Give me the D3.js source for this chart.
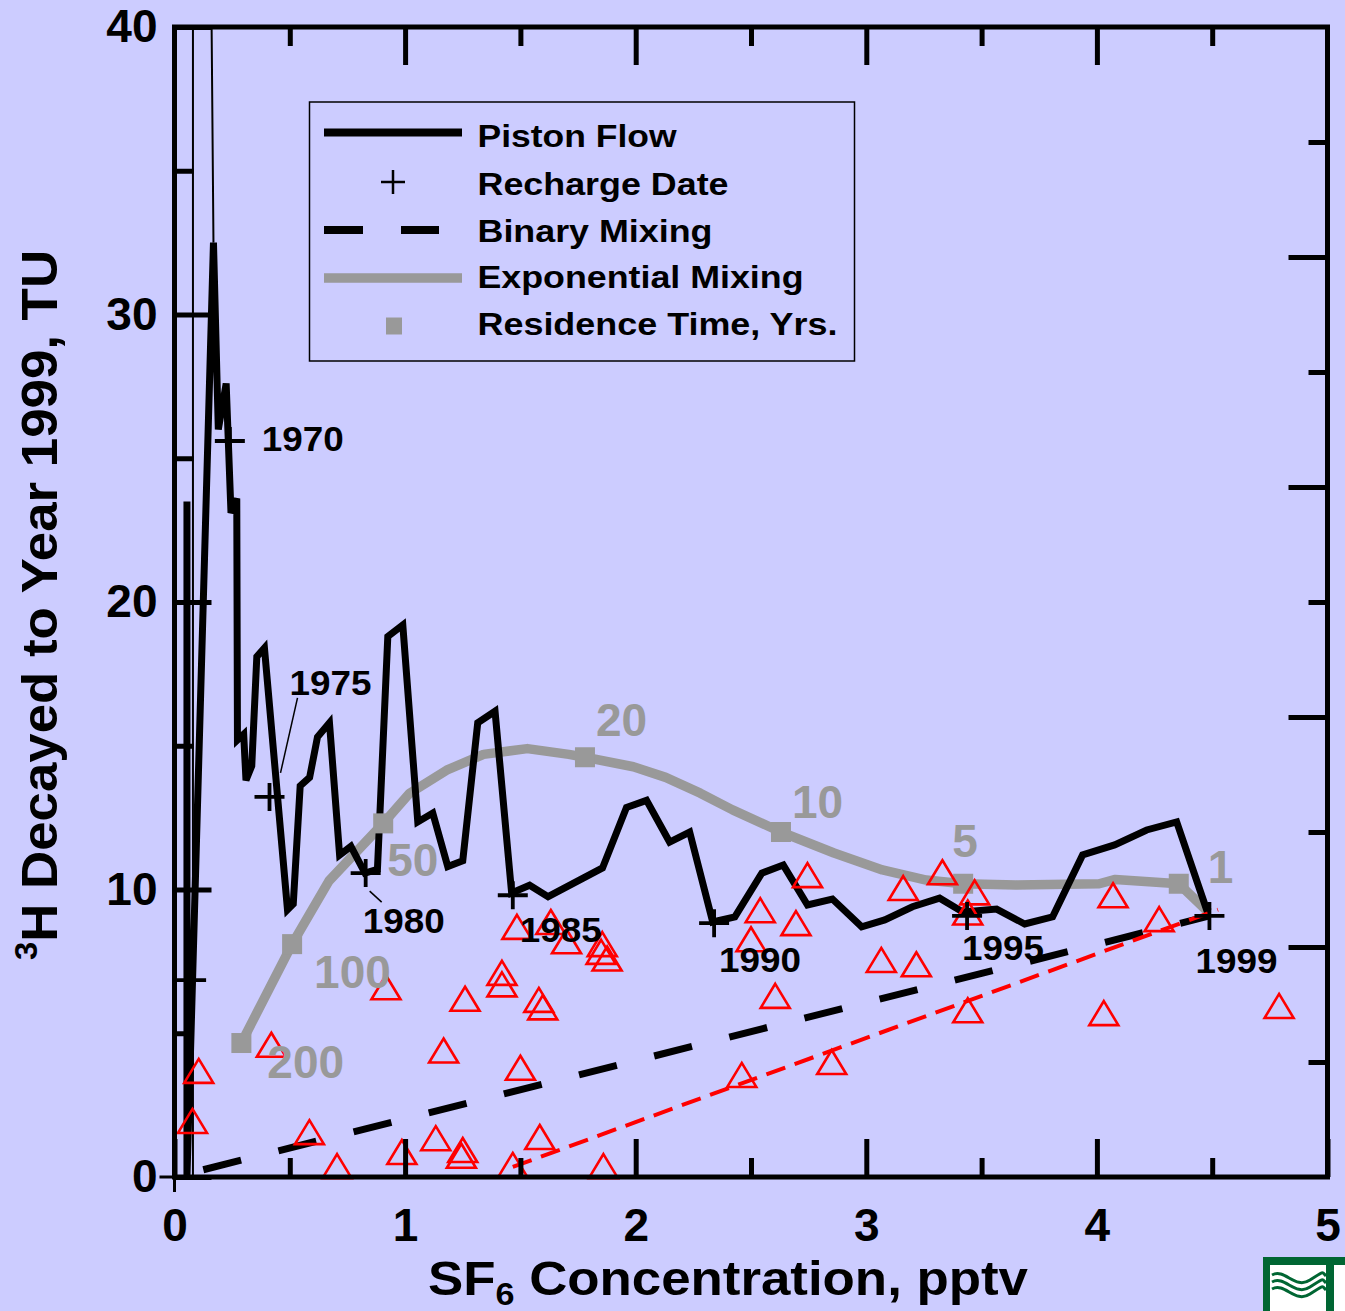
<!DOCTYPE html>
<html>
<head>
<meta charset="utf-8">
<script src="https://cdn.jsdelivr.net/npm/d3@7"></script>
<style>
  html, body { margin: 0; padding: 0; background: #ccccff; }
  svg { display: block; }
  text { font-family: "Liberation Sans", Arial, Helvetica, sans-serif; font-weight: bold; }
</style>
</head>
<body>
<svg id="chart" width="1345" height="1311"></svg>
<script>
// ---- Piston-flow model: SF6 (pptv) vs 3H decayed to 1999 (TU) ----
const pistonSF6 = [0.054, 0.054, 0.169, 0.19, 0.224, 0.245, 0.27, 0.273, 0.30, 0.31, 0.335, 0.357, 0.39,
  0.49, 0.515, 0.545, 0.586, 0.62, 0.672, 0.716, 0.765, 0.826, 0.88, 0.925, 0.99, 1.055, 1.12, 1.185,
  1.25, 1.315, 1.39, 1.462, 1.54, 1.62, 1.856, 1.96, 2.047, 2.147, 2.234, 2.334, 2.43, 2.547, 2.64,
  2.745, 2.853, 2.98, 3.08, 3.2, 3.318, 3.418, 3.565, 3.687, 3.808, 3.938, 4.077, 4.216, 4.346, 4.48];
const pistonTU = [23.5, 0, 32.5, 26.0, 27.6, 23.1, 23.6, 15.2, 15.4, 13.8, 14.3, 18.1, 18.4,
  9.3, 9.5, 13.6, 13.9, 15.3, 15.8, 11.2, 11.5, 10.57, 10.7, 18.8, 19.2, 12.35, 12.66, 10.8,
  11.0, 15.8, 16.2, 9.88, 10.15, 9.75, 10.75, 12.85, 13.1, 11.65, 12.0, 8.87, 9.05, 10.57, 10.85,
  9.46, 9.67, 8.7, 8.94, 9.4, 9.7, 9.22, 9.32, 8.8, 9.05, 11.2, 11.55, 12.07, 12.35, 9.2];

// Bomb-peak part of the piston-flow curve, running far above the 40 TU limit
const bombSF6 = [0.080, 0.080, 0.118, 0.169];
const bombTU = [0, 200, 80, 32.5];

// Recharge dates along the piston-flow curve
const rechargeYear = [1960, 1970, 1975, 1980, 1985, 1990, 1995, 1999];
const rechargeSF6 = [0.072, 0.24, 0.412, 0.829, 1.467, 2.34, 3.437, 4.488];
const rechargeTU = [6.85, 25.6, 13.22, 10.57, 9.8, 8.83, 9.08, 9.08];

// Exponential mixing model curve
const expSF6 = [0.29, 0.51, 0.67, 0.905, 1.02, 1.18, 1.34, 1.53, 1.71, 1.78, 1.99, 2.13, 2.28, 2.42,
  2.63, 2.86, 3.07, 3.26, 3.42, 3.65, 4.01, 4.08, 4.355, 4.485];
const expTU = [4.66, 8.1, 10.3, 12.3, 13.35, 14.15, 14.7, 14.9, 14.7, 14.6, 14.27, 13.9, 13.35, 12.77,
  12.0, 11.27, 10.68, 10.33, 10.2, 10.16, 10.2, 10.35, 10.2, 9.2];

// Mean residence times (years) marked on the exponential curve
const residenceYrs = [200, 100, 50, 20, 10, 5, 1];
const residenceSF6 = [0.29, 0.51, 0.905, 1.78, 2.63, 3.42, 4.355];
const residenceTU = [4.66, 8.1, 12.3, 14.6, 12.0, 10.2, 10.2];

// Binary mixing of old (tritium-free) water with 1999 recharge
const binarySF6 = [0, 4.488];
const binaryTU = [0, 9.08];

// Trend through the younger samples
const trendSF6 = [1.467, 4.525];
const trendTU = [0.35, 9.3];

// Measured samples
const sampleSF6 = [0.078, 0.105, 0.42, 0.585, 0.705, 0.917, 0.986, 1.133, 1.167, 1.26, 1.25, 1.244,
  1.42, 1.42, 1.467, 1.50, 1.485, 1.584, 1.58, 1.597, 1.632, 1.70, 1.86, 1.855, 1.85, 1.876,
  2.46, 2.50, 2.54, 2.695, 2.745, 2.605, 2.85, 3.065, 3.217, 3.16, 3.33, 3.47, 3.44, 3.44,
  4.07, 4.27, 4.03, 4.79];
const sampleTU = [1.95, 3.69, 4.6, 1.56, 0.38, 6.6, 0.87, 1.35, 4.4, 6.2, 0.94, 0.74,
  7.1, 6.7, 0.42, 3.8, 8.7, 1.39, 6.16, 5.9, 8.87, 8.2, 0.38, 8.1, 7.83, 7.6,
  3.55, 8.27, 9.28, 8.83, 10.5, 6.3, 4.0, 7.55, 7.4, 10.05, 10.6, 9.9, 9.2, 5.8,
  9.8, 8.97, 5.7, 5.95];

// Axis ticks
const xMajorTicks = [0, 1, 2, 3, 4, 5];
const xMinorTicks = [0.5, 1.5, 2.5, 3.5, 4.5];
const yMajorTicks = [0, 10, 20, 30, 40];
const yMinorTicks = [5, 15, 25, 35];
const rightMajorTicks = [1, 2, 3, 4];
const rightMinorTicks = [0.5, 1.5, 2.5, 3.5, 4.5];

// ---- Layout ----
const svg = d3.select("#chart");
const L = 174.5, R = 1327.5, T = 27, B = 1177;
const x = d3.scaleLinear().domain([0, 5]).range([L, R]);
const y = d3.scaleLinear().domain([0, 40]).range([B, T]);
const yRight = d3.scaleLinear().domain([0, 5]).range([B, T]);

svg.append("rect").attr("width", 1345).attr("height", 1311).attr("fill", "#ccccff");

svg.append("clipPath").attr("id", "plot-clip")
  .append("rect").attr("x", L).attr("y", T).attr("width", R - L).attr("height", B - T);

const pts = (xs, ys) => xs.map((v, i) => [v, ys[i]]);
const line = d3.line().x(d => x(d[0])).y(d => y(d[1]));

const plot = svg.append("g").attr("clip-path", "url(#plot-clip)");

// Exponential mixing curve (grey)
plot.append("path").datum(pts(expSF6, expTU))
  .attr("d", line).attr("fill", "none").attr("stroke", "#999999")
  .attr("stroke-width", 9.5).attr("stroke-linejoin", "round");

// Binary mixing (black long dashes)
plot.append("path").datum(pts(binarySF6, binaryTU))
  .attr("d", line).attr("fill", "none").attr("stroke", "#000")
  .attr("stroke-width", 7).attr("stroke-dasharray", "39 38.5").attr("stroke-dashoffset", 47.8);

// Bomb-peak excursion (thin)
plot.append("path").datum(pts(bombSF6, bombTU))
  .attr("d", line).attr("fill", "none").attr("stroke", "#000").attr("stroke-width", 2);

// Piston flow curve
plot.append("path").datum(pts(pistonSF6, pistonTU))
  .attr("d", line).attr("fill", "none").attr("stroke", "#000")
  .attr("stroke-width", 7).attr("stroke-linejoin", "miter").attr("stroke-miterlimit", 3);

// Residence-time squares
plot.selectAll("rect.res").data(pts(residenceSF6, residenceTU)).join("rect")
  .attr("class", "res")
  .attr("x", d => x(d[0]) - 10).attr("y", d => y(d[1]) - 10)
  .attr("width", 20).attr("height", 20).attr("fill", "#999999");

// Trend line (red short dashes)
plot.append("path").datum(pts(trendSF6, trendTU))
  .attr("d", line).attr("fill", "none").attr("stroke", "#ff0000")
  .attr("stroke-width", 4).attr("stroke-dasharray", "20 10");

// Samples: open red triangles
const tri = (cx, cy) => {
  const p = d3.path();
  p.moveTo(cx, cy - 12); p.lineTo(cx + 14.5, cy + 12); p.lineTo(cx - 14.5, cy + 12); p.closePath();
  return p.toString();
};
svg.append("g").selectAll("path").data(pts(sampleSF6, sampleTU)).join("path")
  .attr("d", d => tri(x(d[0]), y(d[1])))
  .attr("fill", "none").attr("stroke", "#ff0000").attr("stroke-width", 2.6)
  .attr("stroke-linejoin", "miter");

// Recharge-date crosses
const rech = rechargeYear.map((yr, i) => ({ yr, sf6: rechargeSF6[i], tu: rechargeTU[i] }));
svg.append("g").selectAll("path").data(rech).join("path")
  .attr("d", d => {
    const cx = x(d.sf6), cy = y(d.tu);
    return `M${cx - 15},${cy}H${cx + 15}M${cx},${cy - 14}V${cy + 14}`;
  })
  .attr("stroke", "#000").attr("stroke-width", 3.8).attr("fill", "none");

// Year labels (offsets from each cross)
const yearLabelPos = {
  1970: [32, 10], 1975: [20, -102], 1980: [-3, 60], 1985: [7, 47],
  1990: [5, 49], 1995: [-5, 44], 1999: [-14, 57]
};
svg.append("g").selectAll("text").data(rech.filter(d => yearLabelPos[d.yr])).join("text")
  .attr("x", d => x(d.sf6) + yearLabelPos[d.yr][0])
  .attr("y", d => y(d.tu) + yearLabelPos[d.yr][1])
  .attr("font-size", 35).attr("fill", "#000")
  .attr("textLength", 82).attr("lengthAdjust", "spacingAndGlyphs")
  .text(d => d.yr);

// Leader lines for 1975 and 1980
const leaders = { 1975: [28, -99, 11, -24], 1980: [4, 18, 16, 29] };
svg.append("g").selectAll("line").data(rech.filter(d => leaders[d.yr])).join("line")
  .attr("x1", d => x(d.sf6) + leaders[d.yr][0]).attr("y1", d => y(d.tu) + leaders[d.yr][1])
  .attr("x2", d => x(d.sf6) + leaders[d.yr][2]).attr("y2", d => y(d.tu) + leaders[d.yr][3])
  .attr("stroke", "#000").attr("stroke-width", 1.5);

// Residence-time labels
const resLabelPos = [[26, 35], [22, 44], [4, 53], [11, -21], [11, -14], [-11, -27], [29, -1]];
svg.append("g").selectAll("text").data(residenceYrs).join("text")
  .attr("x", (d, i) => x(residenceSF6[i]) + resLabelPos[i][0])
  .attr("y", (d, i) => y(residenceTU[i]) + resLabelPos[i][1])
  .attr("font-size", 46).attr("fill", "#999999")
  .text(d => d);

// ---- Axes ----
function styleAxis(g, labelSize) {
  g.select(".domain").remove();
  g.selectAll(".tick line").attr("stroke", "#000").attr("stroke-width", 5);
  g.selectAll(".tick text").attr("font-size", labelSize).attr("fill", "#000")
    .attr("font-family", "Liberation Sans, Arial, sans-serif").attr("font-weight", "bold");
}

svg.append("g").attr("transform", `translate(0,${B})`)
  .call(d3.axisBottom(x).tickValues(xMinorTicks).tickSize(-19).tickFormat(""))
  .call(g => styleAxis(g, 0));
svg.append("g").attr("transform", `translate(0,${B})`)
  .call(d3.axisBottom(x).tickValues(xMajorTicks).tickSize(-38).tickPadding(31).tickFormat(d3.format("d")))
  .call(g => styleAxis(g, 46));

svg.append("g").attr("transform", `translate(0,${T})`)
  .call(d3.axisTop(x).tickValues(xMinorTicks).tickSize(-19).tickFormat(""))
  .call(g => styleAxis(g, 0));
svg.append("g").attr("transform", `translate(0,${T})`)
  .call(d3.axisTop(x).tickValues(xMajorTicks.slice(1, -1)).tickSize(-38).tickFormat(""))
  .call(g => styleAxis(g, 0));

svg.append("g").attr("transform", `translate(${L},0)`)
  .call(d3.axisLeft(y).tickValues(yMinorTicks).tickSize(-19).tickFormat(""))
  .call(g => styleAxis(g, 0));
svg.append("g").attr("transform", `translate(${L},0)`)
  .call(d3.axisLeft(y).tickValues(yMajorTicks).tickSize(-37).tickPadding(17).tickFormat(d3.format("d")))
  .call(g => styleAxis(g, 46));

svg.append("g").attr("transform", `translate(${R},0)`)
  .call(d3.axisRight(yRight).tickValues(rightMinorTicks).tickSize(-19).tickFormat(""))
  .call(g => styleAxis(g, 0));
svg.append("g").attr("transform", `translate(${R},0)`)
  .call(d3.axisRight(yRight).tickValues(rightMajorTicks).tickSize(-39).tickFormat(""))
  .call(g => styleAxis(g, 0));

// Plot frame
svg.append("rect").attr("x", L).attr("y", T).attr("width", R - L).attr("height", B - T)
  .attr("fill", "none").attr("stroke", "#000").attr("stroke-width", 5);
// Outward ticks at the origin
svg.append("path")
  .attr("d", `M${x(0) - 15},${y(0)}H${x(0)}M${x(0)},${y(0)}V${y(0) + 15}`)
  .attr("stroke", "#000").attr("stroke-width", 3);

// Axis titles
const xt = svg.append("text").attr("x", 428).attr("y", 1295).attr("font-size", 48)
  .attr("fill", "#000").attr("textLength", 600).attr("lengthAdjust", "spacingAndGlyphs");
xt.append("tspan").text("SF");
xt.append("tspan").attr("font-size", 31).attr("dy", 10).text("6");
xt.append("tspan").attr("dy", -10).text(" Concentration, pptv");

const yt = svg.append("text").attr("transform", "translate(57,605) rotate(-90)")
  .attr("text-anchor", "middle").attr("font-size", 50).attr("fill", "#000")
  .attr("textLength", 710).attr("lengthAdjust", "spacingAndGlyphs");
yt.append("tspan").attr("font-size", 31).attr("dy", -20).text("3");
yt.append("tspan").attr("dy", 20).text("H Decayed to Year 1999, TU");

// ---- Legend ----
const lg = svg.append("g");
lg.append("rect").attr("x", 309.5).attr("y", 102).attr("width", 545).attr("height", 259)
  .attr("fill", "none").attr("stroke", "#000").attr("stroke-width", 1.5);
lg.append("line").attr("x1", 324).attr("x2", 462).attr("y1", 132.5).attr("y2", 132.5)
  .attr("stroke", "#000").attr("stroke-width", 8);
lg.append("path").attr("d", "M381,182H405M393,170V194").attr("stroke", "#000").attr("stroke-width", 2.5);
lg.append("path").attr("d", "M324,230H363M401,230H439").attr("stroke", "#000").attr("stroke-width", 8);
lg.append("line").attr("x1", 324).attr("x2", 462).attr("y1", 278).attr("y2", 278)
  .attr("stroke", "#999999").attr("stroke-width", 9.5);
lg.append("rect").attr("x", 386).attr("y", 317.5).attr("width", 16).attr("height", 17).attr("fill", "#999999");

const legendLabels = ["Piston Flow", "Recharge Date", "Binary Mixing", "Exponential Mixing", "Residence Time, Yrs."];
const legendBase = [147, 195, 242, 288, 335];
const legendWidth = [199, 251, 235, 326, 360];
lg.selectAll("text").data(legendLabels).join("text")
  .attr("x", 477.5).attr("y", (d, i) => legendBase[i])
  .attr("font-size", 31).attr("fill", "#000")
  .attr("textLength", (d, i) => legendWidth[i]).attr("lengthAdjust", "spacingAndGlyphs")
  .text(d => d);

// ---- Agency logo, bottom-right ----
const logo = svg.append("g");
logo.append("rect").attr("x", 1263).attr("y", 1257).attr("width", 82).attr("height", 54).attr("fill", "#006633");
logo.append("rect").attr("x", 1270).attr("y", 1265).attr("width", 56).attr("height", 46).attr("fill", "#ffffff");
logo.append("rect").attr("x", 1334).attr("y", 1265).attr("width", 11).attr("height", 46).attr("fill", "#ffffff");
[0, 7, 14].forEach(o => {
  logo.append("path")
    .attr("d", `M1272,${1275 + o} C1285,${1268 + o} 1295,${1290 + o} 1310,${1280 + o} S1322,${1272 + o} 1326,${1276 + o}`)
    .attr("fill", "none").attr("stroke", "#006633").attr("stroke-width", 3);
});
</script>
</body>
</html>
